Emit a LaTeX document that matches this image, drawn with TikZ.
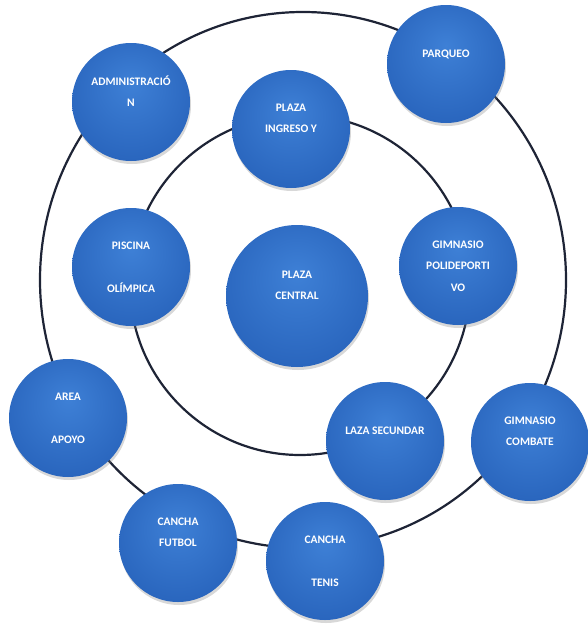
\documentclass[tikz,border=0pt]{standalone}
\usepackage{fontspec}
\setmainfont{Carlito}
\usetikzlibrary{shadows}

\definecolor{zonaA}{RGB}{62,128,214}
\definecolor{zonaM}{RGB}{42,102,190}
\definecolor{zonaB}{RGB}{26,72,146}
\definecolor{anilloC}{RGB}{30,36,54}
\pgfdeclareradialshading{bola}{\pgfpoint{0bp}{8bp}}{color(0bp)=(zonaA); color(28bp)=(zonaM); color(44bp)=(zonaM); color(50bp)=(zonaB)}

\begin{document}
\begin{tikzpicture}[
        x=1pt, y=-1pt,
        font=\fontsize{11.5}{21.5}\selectfont\bfseries,
        zona/.style={circle, minimum size=118pt, inner sep=0pt, align=center, text=white, shading=bola, drop shadow={opacity=0.3, shadow xshift=1pt, shadow yshift=-3pt}},
        anillo/.style={draw=anilloC, line width=2.2pt}
    ]
        \useasboundingbox[fill=white] (0,0) rectangle (587,624);

        % anillos
        \coordinate (cext) at (303,280);
        \coordinate (cint) at (300,285);
        \draw[anillo] (cext) ellipse [x radius=263, y radius=268];
        \draw[anillo] (cint) circle [radius=170];

        % zonas
        \node[zona] (admin) at (131,102) {ADMINISTRACIÓ\\N\\~};
        \node[zona] (parqueo) at (446,64) {PARQUEO\\~};
        \node[zona] (ingreso) at (291,129) {PLAZA\\INGRESO Y\\~};
        \node[zona] (piscina) at (131,267) {PISCINA\\~\\OLÍMPICA};
        \node[zona, minimum size=142pt] (central) at (297,296) {PLAZA\\CENTRAL\\~};
        \node[zona] (polidep) at (458,266) {GIMNASIO\\POLIDEPORTI\\VO};
        \node[zona] (apoyo) at (68,418) {AREA\\~\\APOYO};
        \node[zona] (secund) at (385,441) {LAZA SECUNDAR\\~};
        \node[zona] (combate) at (530,442) {GIMNASIO\\COMBATE\\~};
        \node[zona] (futbol) at (178,543) {CANCHA\\FUTBOL\\~};
        \node[zona] (tenis) at (325,561) {CANCHA\\~\\TENIS};
    \end{tikzpicture}
\end{document}
